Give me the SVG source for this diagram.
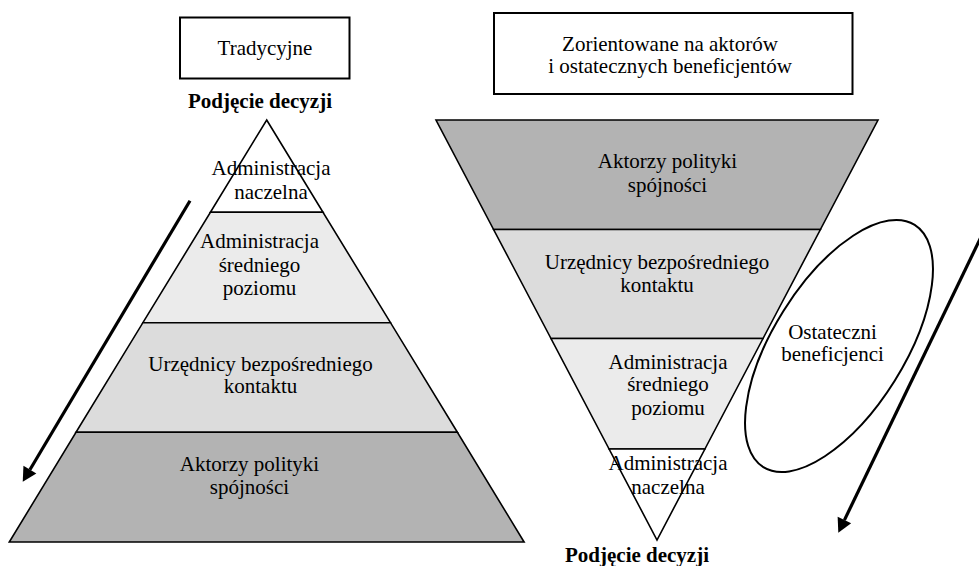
<svg xmlns="http://www.w3.org/2000/svg" width="979" height="566" viewBox="0 0 979 566">
<style>
  .t { font-family: "Liberation Serif", "Times New Roman", serif; font-size: 21px; fill: #000; text-anchor: middle; }
  .b { font-weight: bold; }
  .box { fill: #fff; stroke: #000; stroke-width: 2; }
  .band { stroke: #000; stroke-width: 1.6; stroke-linejoin: miter; }
  .w { fill: #ffffff; }
  .l1 { fill: #ebebeb; }
  .l2 { fill: #dcdcdc; }
  .d { fill: #b3b3b3; }
  .ell { fill: none; stroke: #000; stroke-width: 2; }
  .arr { fill: none; stroke: #000; stroke-width: 3.2; }
</style>
<defs>
  <marker id="ah" markerUnits="userSpaceOnUse" markerWidth="16" markerHeight="16" refX="0" refY="7.5" orient="auto" overflow="visible">
    <path d="M0,0 L14,7.5 L0,15 Z" fill="#000"/>
  </marker>
</defs>
<rect width="979" height="566" fill="#fff"/>

<g id="box-tradycyjne">
  <rect class="box" x="180" y="17.5" width="169.5" height="61"/>
  <text class="t" x="265" y="54.5">Tradycyjne</text>
</g>
<g id="label-podjecie-left">
  <text class="t b" x="260" y="108">Podjęcie decyzji</text>
</g>

<g id="left-admin-naczelna">
  <polygon class="band w" points="266.7,120 323,212.3 210.4,212.3"/>
  <text class="t" x="271" y="174.5">Administracja</text>
  <text class="t" x="271" y="198.5">naczelna</text>
</g>
<g id="left-admin-srednia">
  <polygon class="band l1" points="210.4,212.3 323,212.3 390.5,322.7 142.9,322.7"/>
  <text class="t" x="259.5" y="248">Administracja</text>
  <text class="t" x="259.5" y="271.5">średniego</text>
  <text class="t" x="259.5" y="295">poziomu</text>
</g>
<g id="left-urzednicy">
  <polygon class="band l2" points="142.9,322.7 390.5,322.7 457.4,432.3 76,432.3"/>
  <text class="t" x="260.5" y="370.5">Urzędnicy bezpośredniego</text>
  <text class="t" x="260.5" y="392.5">kontaktu</text>
</g>
<g id="left-aktorzy">
  <polygon class="band d" points="76,432.3 457.4,432.3 524.1,542 9.3,542"/>
  <text class="t" x="249.5" y="470.5">Aktorzy polityki</text>
  <text class="t" x="249.5" y="494">spójności</text>
</g>

<g id="box-zorientowane">
  <rect class="box" x="494" y="13" width="358.5" height="81"/>
  <text class="t" x="670" y="50.5">Zorientowane na aktorów</text>
  <text class="t" x="670" y="72.5">i ostatecznych beneficjentów</text>
</g>

<g id="right-aktorzy">
  <polygon class="band d" points="436,120 878,120 820.4,229.5 493.6,229.5"/>
  <text class="t" x="667.5" y="168">Aktorzy polityki</text>
  <text class="t" x="667.5" y="191.5">spójności</text>
</g>
<g id="right-urzednicy">
  <polygon class="band l2" points="493.6,229.5 820.4,229.5 763,338.5 551,338.5"/>
  <text class="t" x="657" y="268.5">Urzędnicy bezpośredniego</text>
  <text class="t" x="657" y="291.5">kontaktu</text>
</g>
<g id="right-admin-srednia">
  <polygon class="band l1" points="551,338.5 763,338.5 704.9,449 609.1,449"/>
  <text class="t" x="668" y="368.5">Administracja</text>
  <text class="t" x="668" y="391">średniego</text>
  <text class="t" x="668" y="415">poziomu</text>
</g>
<g id="right-admin-naczelna">
  <polygon class="band w" points="609.1,449 704.9,449 657,540"/>
  <text class="t" x="668" y="469.5">Administracja</text>
  <text class="t" x="668" y="493.5">naczelna</text>
</g>
<g id="label-podjecie-right">
  <text class="t b" x="637" y="561.5">Podjęcie decyzji</text>
</g>

<g id="ellipse-beneficjenci">
  <ellipse class="ell" cx="839" cy="346" rx="65.7" ry="142.8" transform="rotate(32 839 346)"/>
  <text class="t" x="832.5" y="338.5">Ostateczni</text>
  <text class="t" x="832.5" y="360.5">beneficjenci</text>
</g>

<g id="connectors">
  <line class="arr" x1="190" y1="200.7" x2="29.9" y2="469.7" marker-end="url(#ah)"/>
  <line class="arr" x1="981" y1="237" x2="844.4" y2="520.1" marker-end="url(#ah)"/>
</g>
</svg>
